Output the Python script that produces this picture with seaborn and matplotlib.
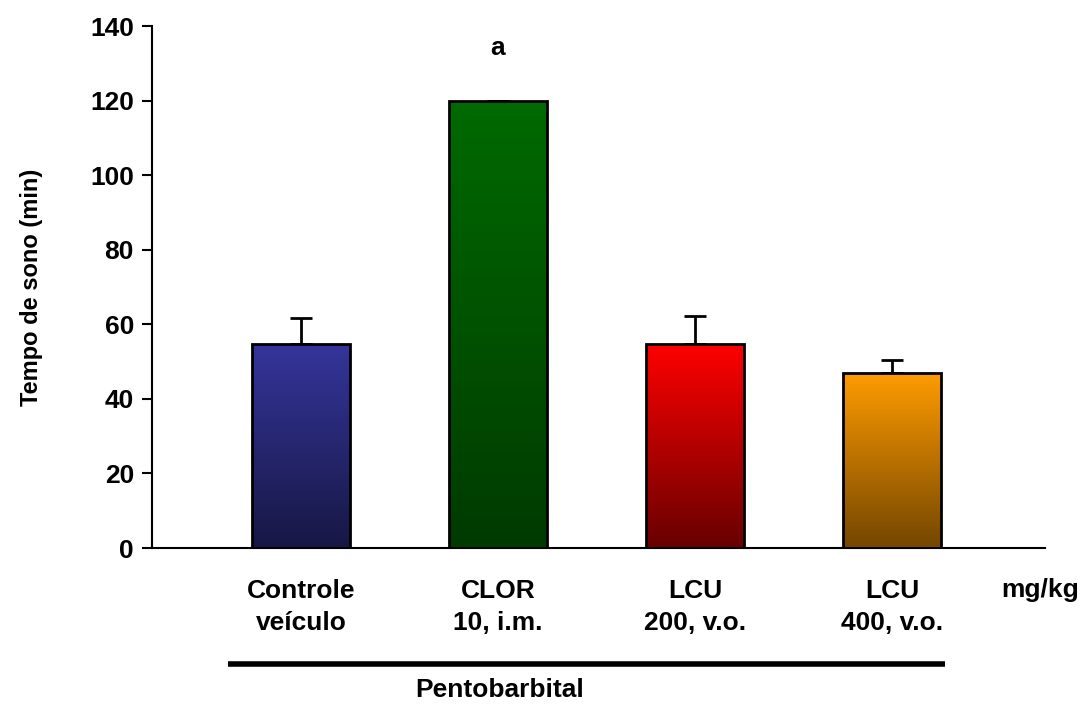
import numpy as np
import pandas as pd
import matplotlib
matplotlib.use("Agg")
import matplotlib.pyplot as plt
import seaborn as sns
from matplotlib.colors import LinearSegmentedColormap

groups = ["Controle\nveículo", "CLOR\n10, i.m.", "LCU\n200, v.o.", "LCU\n400, v.o."]
means = [54.8, 120.0, 54.8, 47.0]
errors = [7.0, 0.0, 7.5, 3.5]
top_colors = ["#35359c", "#006a00", "#ff0000", "#ff9c00"]
bottom_colors = ["#171745", "#003a00", "#680000", "#744600"]
yticks = [0, 20, 40, 60, 80, 100, 120, 140]
signif = ["", "a", "", ""]

sns.set_theme(style="white")
plt.rcParams['font.family'] = ['Liberation Sans', 'DejaVu Sans']
plt.rcParams['font.weight'] = 'bold'
for k in ["text.color", "axes.labelcolor", "xtick.color", "ytick.color"]:
    plt.rcParams[k] = "black"

fig = plt.figure(figsize=(10.88, 7.05), dpi=100)
ax = fig.add_axes([152/1088, 1-548/705, (1045-152)/1088, (548-26)/705])

df = pd.DataFrame({"group": groups, "mean": means})
sns.barplot(data=df, x="group", y="mean", ax=ax, width=0.5, color="white",
            edgecolor="black", linewidth=2, zorder=3)

grad = np.linspace(1, 0, 256).reshape(-1, 1)
for i, p in enumerate(ax.patches):
    x0, y0 = p.get_x(), p.get_y()
    w, h = p.get_width(), p.get_height()
    cmap = LinearSegmentedColormap.from_list(f"g{i}", [bottom_colors[i], top_colors[i]])
    im = ax.imshow(grad, extent=[x0, x0 + w, y0, y0 + h], aspect="auto",
                   cmap=cmap, origin="upper", zorder=3.5, vmin=0, vmax=1)
    im.set_clip_path(p)
    p.set_facecolor("none")
    p.set_zorder(4)

xs = np.arange(len(groups))
ax.errorbar(xs, means, yerr=[np.zeros(len(errors)), errors], fmt="none",
            ecolor="black", elinewidth=2, capsize=8, capthick=2, zorder=2)

for i, s in enumerate(signif):
    if s:
        ax.text(xs[i], means[i] + 14, s, ha="center", va="center",
                fontsize=19, fontweight="bold")

ax.set_xlim(-0.756, 3.777)
ax.set_ylim(0, 140)
ax.set_yticks(yticks)
ax.set_yticklabels([str(t) for t in yticks], fontsize=19, fontweight="bold")
ax.tick_params(axis="y", direction="out", length=7, width=1.5, left=True, pad=6)
ax.tick_params(axis="x", length=0, pad=22)
ax.set_xticks(xs)
ax.set_xticklabels(groups, fontsize=19, fontweight="bold", linespacing=1.45)
ax.set_xlabel("")
ax.set_ylabel("Tempo de sono (min)", fontsize=17, fontweight="bold", labelpad=34)
for s in ["top", "right"]:
    ax.spines[s].set_visible(False)
for s in ["left", "bottom"]:
    ax.spines[s].set_linewidth(1.5)
    ax.spines[s].set_color("black")

fig.text(1040/1088, 1-590/705, "mg/kg", ha="center", va="center",
         fontsize=19, fontweight="bold")
fig.add_artist(plt.Line2D([228/1088, 945/1088], [1-664/705, 1-664/705],
                          color="black", linewidth=4, solid_capstyle="butt",
                          transform=fig.transFigure))
fig.text(500/1088, 1-690/705, "Pentobarbital", ha="center", va="center",
         fontsize=19, fontweight="bold")

fig.savefig("out.png", dpi=100)
